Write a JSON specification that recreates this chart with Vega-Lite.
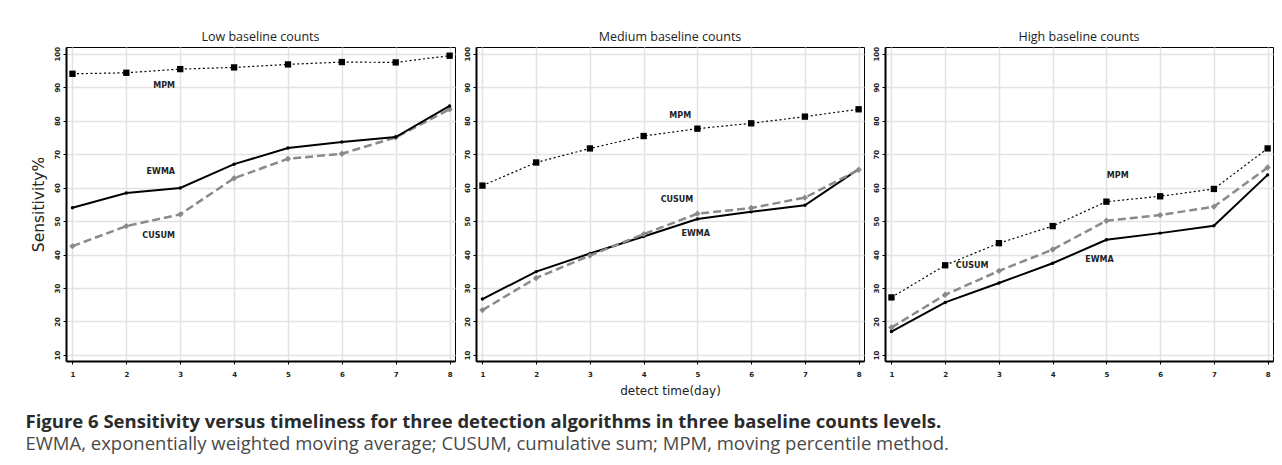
{
  "$schema": "https://vega.github.io/schema/vega-lite/v6.json",
  "padding": {"left": 25, "top": 30, "right": 5, "bottom": 5},
  "background": "white",
  "datasets": {
    "series": [
      {"panel": "Low", "algo": "MPM", "day": 1, "sens": 94.0},
      {"panel": "Low", "algo": "MPM", "day": 2, "sens": 94.3},
      {"panel": "Low", "algo": "MPM", "day": 3, "sens": 95.4},
      {"panel": "Low", "algo": "MPM", "day": 4, "sens": 95.9},
      {"panel": "Low", "algo": "MPM", "day": 5, "sens": 96.8},
      {"panel": "Low", "algo": "MPM", "day": 6, "sens": 97.5},
      {"panel": "Low", "algo": "MPM", "day": 7, "sens": 97.4},
      {"panel": "Low", "algo": "MPM", "day": 8, "sens": 99.4},
      {"panel": "Low", "algo": "EWMA", "day": 1, "sens": 54.0},
      {"panel": "Low", "algo": "EWMA", "day": 2, "sens": 58.4},
      {"panel": "Low", "algo": "EWMA", "day": 3, "sens": 59.9},
      {"panel": "Low", "algo": "EWMA", "day": 4, "sens": 67.0},
      {"panel": "Low", "algo": "EWMA", "day": 5, "sens": 71.8},
      {"panel": "Low", "algo": "EWMA", "day": 6, "sens": 73.6},
      {"panel": "Low", "algo": "EWMA", "day": 7, "sens": 75.1},
      {"panel": "Low", "algo": "EWMA", "day": 8, "sens": 84.4},
      {"panel": "Low", "algo": "CUSUM", "day": 1, "sens": 42.5},
      {"panel": "Low", "algo": "CUSUM", "day": 2, "sens": 48.5},
      {"panel": "Low", "algo": "CUSUM", "day": 3, "sens": 52.0},
      {"panel": "Low", "algo": "CUSUM", "day": 4, "sens": 62.8},
      {"panel": "Low", "algo": "CUSUM", "day": 5, "sens": 68.6},
      {"panel": "Low", "algo": "CUSUM", "day": 6, "sens": 70.1},
      {"panel": "Low", "algo": "CUSUM", "day": 7, "sens": 75.0},
      {"panel": "Low", "algo": "CUSUM", "day": 8, "sens": 83.4},
      {"panel": "Medium", "algo": "MPM", "day": 1, "sens": 60.6},
      {"panel": "Medium", "algo": "MPM", "day": 2, "sens": 67.5},
      {"panel": "Medium", "algo": "MPM", "day": 3, "sens": 71.7},
      {"panel": "Medium", "algo": "MPM", "day": 4, "sens": 75.4},
      {"panel": "Medium", "algo": "MPM", "day": 5, "sens": 77.6},
      {"panel": "Medium", "algo": "MPM", "day": 6, "sens": 79.2},
      {"panel": "Medium", "algo": "MPM", "day": 7, "sens": 81.2},
      {"panel": "Medium", "algo": "MPM", "day": 8, "sens": 83.4},
      {"panel": "Medium", "algo": "EWMA", "day": 1, "sens": 26.7},
      {"panel": "Medium", "algo": "EWMA", "day": 2, "sens": 34.9},
      {"panel": "Medium", "algo": "EWMA", "day": 3, "sens": 40.3},
      {"panel": "Medium", "algo": "EWMA", "day": 4, "sens": 45.4},
      {"panel": "Medium", "algo": "EWMA", "day": 5, "sens": 50.6},
      {"panel": "Medium", "algo": "EWMA", "day": 6, "sens": 52.8},
      {"panel": "Medium", "algo": "EWMA", "day": 7, "sens": 54.7},
      {"panel": "Medium", "algo": "EWMA", "day": 8, "sens": 65.5},
      {"panel": "Medium", "algo": "CUSUM", "day": 1, "sens": 23.4},
      {"panel": "Medium", "algo": "CUSUM", "day": 2, "sens": 33.0},
      {"panel": "Medium", "algo": "CUSUM", "day": 3, "sens": 39.7},
      {"panel": "Medium", "algo": "CUSUM", "day": 4, "sens": 46.1},
      {"panel": "Medium", "algo": "CUSUM", "day": 5, "sens": 52.2},
      {"panel": "Medium", "algo": "CUSUM", "day": 6, "sens": 53.9},
      {"panel": "Medium", "algo": "CUSUM", "day": 7, "sens": 57.0},
      {"panel": "Medium", "algo": "CUSUM", "day": 8, "sens": 65.3},
      {"panel": "High", "algo": "MPM", "day": 1, "sens": 27.2},
      {"panel": "High", "algo": "MPM", "day": 2, "sens": 36.8},
      {"panel": "High", "algo": "MPM", "day": 3, "sens": 43.4},
      {"panel": "High", "algo": "MPM", "day": 4, "sens": 48.5},
      {"panel": "High", "algo": "MPM", "day": 5, "sens": 55.8},
      {"panel": "High", "algo": "MPM", "day": 6, "sens": 57.4},
      {"panel": "High", "algo": "MPM", "day": 7, "sens": 59.6},
      {"panel": "High", "algo": "MPM", "day": 8, "sens": 71.7},
      {"panel": "High", "algo": "EWMA", "day": 1, "sens": 17.0},
      {"panel": "High", "algo": "EWMA", "day": 2, "sens": 25.7},
      {"panel": "High", "algo": "EWMA", "day": 3, "sens": 31.5},
      {"panel": "High", "algo": "EWMA", "day": 4, "sens": 37.4},
      {"panel": "High", "algo": "EWMA", "day": 5, "sens": 44.4},
      {"panel": "High", "algo": "EWMA", "day": 6, "sens": 46.4},
      {"panel": "High", "algo": "EWMA", "day": 7, "sens": 48.6},
      {"panel": "High", "algo": "EWMA", "day": 8, "sens": 63.8},
      {"panel": "High", "algo": "CUSUM", "day": 1, "sens": 18.2},
      {"panel": "High", "algo": "CUSUM", "day": 2, "sens": 28.0},
      {"panel": "High", "algo": "CUSUM", "day": 3, "sens": 35.1},
      {"panel": "High", "algo": "CUSUM", "day": 4, "sens": 41.5},
      {"panel": "High", "algo": "CUSUM", "day": 5, "sens": 50.1},
      {"panel": "High", "algo": "CUSUM", "day": 6, "sens": 51.8},
      {"panel": "High", "algo": "CUSUM", "day": 7, "sens": 54.3},
      {"panel": "High", "algo": "CUSUM", "day": 8, "sens": 66.0}
    ],
    "labels": [
      {"panel": "Low", "label": "MPM", "day": 2.7, "sens": 90.3},
      {"panel": "Low", "label": "EWMA", "day": 2.64, "sens": 64.7},
      {"panel": "Low", "label": "CUSUM", "day": 2.6, "sens": 45.5},
      {"panel": "Medium", "label": "MPM", "day": 4.68, "sens": 81.4},
      {"panel": "Medium", "label": "CUSUM", "day": 4.62, "sens": 56.2},
      {"panel": "Medium", "label": "EWMA", "day": 4.97, "sens": 46.1},
      {"panel": "High", "label": "MPM", "day": 5.21, "sens": 63.5},
      {"panel": "High", "label": "CUSUM", "day": 2.5, "sens": 36.6},
      {"panel": "High", "label": "EWMA", "day": 4.87, "sens": 38.4}
    ]
  },
  "title": {
    "text": "Figure 6 Sensitivity versus timeliness for three detection algorithms in three baseline counts levels.",
    "subtitle": "EWMA, exponentially weighted moving average; CUSUM, cumulative sum; MPM, moving percentile method.",
    "orient": "bottom",
    "anchor": "start",
    "frame": "bounds",
    "offset": 16,
    "dx": -5,
    "font": "Open Sans",
    "fontSize": 18.5,
    "fontWeight": "bold",
    "color": "#2b2b2b",
    "subtitleFont": "Open Sans",
    "subtitleFontSize": 18.5,
    "subtitleFontWeight": "normal",
    "subtitleColor": "#4a4a4a",
    "subtitlePadding": 4
  },
  "spacing": 6,
  "config": {
    "view": {"stroke": "black", "strokeWidth": 1},
    "axis": {
      "grid": true,
      "gridColor": "#e3e3e3",
      "gridWidth": 1.5,
      "domainColor": "black",
      "domainWidth": 2,
      "tickColor": "black",
      "tickSize": 3,
      "labelFont": "DejaVu Sans",
      "labelFontWeight": "bold",
      "labelFontSize": 7,
      "labelColor": "#222",
      "labelOverlap": false,
      "titleFont": "DejaVu Sans",
      "titleFontWeight": "normal",
      "titleColor": "#222"
    },
    "title": {"font": "Open Sans", "fontSize": 12.5, "fontWeight": "normal", "color": "#222", "offset": 3}
  },
  "hconcat": [
    {
      "width": 389, "height": 314,
      "title": "Low baseline counts",
      "layer": [
        {"data": {"name": "series"}, "transform": [{"filter": "datum.panel === 'Low' && datum.algo === 'MPM'"}],
         "mark": {"type": "line", "color": "black", "strokeWidth": 1.2, "strokeDash": [2, 2.5]},
         "encoding": {
           "x": {"field": "day", "type": "quantitative", "scale": {"domain": [0.88, 8.1], "nice": false, "zero": false}, "axis": {"values": [1,2,3,4,5,6,7,8], "format": "d", "title": null, "labelPadding": 6}},
           "y": {"field": "sens", "type": "quantitative", "scale": {"domain": [8.2, 102], "nice": false, "zero": false}, "axis": {"values": [10,20,30,40,50,60,70,80,90,100], "format": "d", "tickCount": 12, "title": "Sensitivity%", "titleFontSize": 15.5, "titlePadding": 7, "labelAngle": -90, "labelAlign": "center", "labelBaseline": "bottom", "labelPadding": 3}}
         }},
        {"data": {"name": "series"}, "transform": [{"filter": "datum.panel === 'Low' && datum.algo === 'MPM'"}],
         "mark": {"type": "point", "shape": "square", "filled": true, "color": "black", "size": 40, "opacity": 1},
         "encoding": {"x": {"field": "day", "type": "quantitative"}, "y": {"field": "sens", "type": "quantitative"}}},
        {"data": {"name": "series"}, "transform": [{"filter": "datum.panel === 'Low' && datum.algo === 'CUSUM'"}],
         "mark": {"type": "line", "color": "#8a8a8a", "strokeWidth": 2.5, "strokeDash": [8, 4]},
         "encoding": {"x": {"field": "day", "type": "quantitative"}, "y": {"field": "sens", "type": "quantitative"}}},
        {"data": {"name": "series"}, "transform": [{"filter": "datum.panel === 'Low' && datum.algo === 'CUSUM'"}],
         "mark": {"type": "point", "shape": "diamond", "filled": true, "color": "#8a8a8a", "size": 40, "opacity": 1},
         "encoding": {"x": {"field": "day", "type": "quantitative"}, "y": {"field": "sens", "type": "quantitative"}}},
        {"data": {"name": "series"}, "transform": [{"filter": "datum.panel === 'Low' && datum.algo === 'EWMA'"}],
         "mark": {"type": "line", "color": "black", "strokeWidth": 2},
         "encoding": {"x": {"field": "day", "type": "quantitative"}, "y": {"field": "sens", "type": "quantitative"}}},
        {"data": {"name": "series"}, "transform": [{"filter": "datum.panel === 'Low' && datum.algo === 'EWMA'"}],
         "mark": {"type": "point", "shape": "circle", "filled": true, "color": "black", "size": 12, "opacity": 1},
         "encoding": {"x": {"field": "day", "type": "quantitative"}, "y": {"field": "sens", "type": "quantitative"}}},
        {"data": {"name": "labels"}, "transform": [{"filter": "datum.panel === 'Low'"}],
         "mark": {"type": "text", "font": "DejaVu Sans", "fontWeight": "bold", "fontSize": 8, "color": "#222", "align": "center", "baseline": "middle"},
         "encoding": {"x": {"field": "day", "type": "quantitative"}, "y": {"field": "sens", "type": "quantitative"}, "text": {"field": "label"}}}
      ]
    },
    {
      "width": 388, "height": 314,
      "title": "Medium baseline counts",
      "layer": [
        {"data": {"name": "series"}, "transform": [{"filter": "datum.panel === 'Medium' && datum.algo === 'MPM'"}],
         "mark": {"type": "line", "color": "black", "strokeWidth": 1.2, "strokeDash": [2, 2.5]},
         "encoding": {
           "x": {"field": "day", "type": "quantitative", "scale": {"domain": [0.88, 8.1], "nice": false, "zero": false}, "axis": {"values": [1,2,3,4,5,6,7,8], "format": "d", "title": "detect time(day)", "titleFontSize": 12, "titlePadding": 8, "labelPadding": 6}},
           "y": {"field": "sens", "type": "quantitative", "scale": {"domain": [8.2, 102], "nice": false, "zero": false}, "axis": {"values": [10,20,30,40,50,60,70,80,90,100], "format": "d", "tickCount": 12, "title": null, "labelAngle": -90, "labelAlign": "center", "labelBaseline": "bottom", "labelPadding": 3}}
         }},
        {"data": {"name": "series"}, "transform": [{"filter": "datum.panel === 'Medium' && datum.algo === 'MPM'"}],
         "mark": {"type": "point", "shape": "square", "filled": true, "color": "black", "size": 40, "opacity": 1},
         "encoding": {"x": {"field": "day", "type": "quantitative"}, "y": {"field": "sens", "type": "quantitative"}}},
        {"data": {"name": "series"}, "transform": [{"filter": "datum.panel === 'Medium' && datum.algo === 'EWMA'"}],
         "mark": {"type": "line", "color": "black", "strokeWidth": 2},
         "encoding": {"x": {"field": "day", "type": "quantitative"}, "y": {"field": "sens", "type": "quantitative"}}},
        {"data": {"name": "series"}, "transform": [{"filter": "datum.panel === 'Medium' && datum.algo === 'EWMA'"}],
         "mark": {"type": "point", "shape": "circle", "filled": true, "color": "black", "size": 12, "opacity": 1},
         "encoding": {"x": {"field": "day", "type": "quantitative"}, "y": {"field": "sens", "type": "quantitative"}}},
        {"data": {"name": "series"}, "transform": [{"filter": "datum.panel === 'Medium' && datum.algo === 'CUSUM'"}],
         "mark": {"type": "line", "color": "#8a8a8a", "strokeWidth": 2.5, "strokeDash": [8, 4]},
         "encoding": {"x": {"field": "day", "type": "quantitative"}, "y": {"field": "sens", "type": "quantitative"}}},
        {"data": {"name": "series"}, "transform": [{"filter": "datum.panel === 'Medium' && datum.algo === 'CUSUM'"}],
         "mark": {"type": "point", "shape": "diamond", "filled": true, "color": "#8a8a8a", "size": 40, "opacity": 1},
         "encoding": {"x": {"field": "day", "type": "quantitative"}, "y": {"field": "sens", "type": "quantitative"}}},
        {"data": {"name": "labels"}, "transform": [{"filter": "datum.panel === 'Medium'"}],
         "mark": {"type": "text", "font": "DejaVu Sans", "fontWeight": "bold", "fontSize": 8, "color": "#222", "align": "center", "baseline": "middle"},
         "encoding": {"x": {"field": "day", "type": "quantitative"}, "y": {"field": "sens", "type": "quantitative"}, "text": {"field": "label"}}}
      ]
    },
    {
      "width": 388, "height": 314,
      "title": "High baseline counts",
      "layer": [
        {"data": {"name": "series"}, "transform": [{"filter": "datum.panel === 'High' && datum.algo === 'MPM'"}],
         "mark": {"type": "line", "color": "black", "strokeWidth": 1.2, "strokeDash": [2, 2.5]},
         "encoding": {
           "x": {"field": "day", "type": "quantitative", "scale": {"domain": [0.88, 8.1], "nice": false, "zero": false}, "axis": {"values": [1,2,3,4,5,6,7,8], "format": "d", "title": null, "labelPadding": 6}},
           "y": {"field": "sens", "type": "quantitative", "scale": {"domain": [8.2, 102], "nice": false, "zero": false}, "axis": {"values": [10,20,30,40,50,60,70,80,90,100], "format": "d", "tickCount": 12, "title": null, "labelAngle": -90, "labelAlign": "center", "labelBaseline": "bottom", "labelPadding": 3}}
         }},
        {"data": {"name": "series"}, "transform": [{"filter": "datum.panel === 'High' && datum.algo === 'MPM'"}],
         "mark": {"type": "point", "shape": "square", "filled": true, "color": "black", "size": 40, "opacity": 1},
         "encoding": {"x": {"field": "day", "type": "quantitative"}, "y": {"field": "sens", "type": "quantitative"}}},
        {"data": {"name": "series"}, "transform": [{"filter": "datum.panel === 'High' && datum.algo === 'CUSUM'"}],
         "mark": {"type": "line", "color": "#8a8a8a", "strokeWidth": 2.5, "strokeDash": [8, 4]},
         "encoding": {"x": {"field": "day", "type": "quantitative"}, "y": {"field": "sens", "type": "quantitative"}}},
        {"data": {"name": "series"}, "transform": [{"filter": "datum.panel === 'High' && datum.algo === 'CUSUM'"}],
         "mark": {"type": "point", "shape": "diamond", "filled": true, "color": "#8a8a8a", "size": 40, "opacity": 1},
         "encoding": {"x": {"field": "day", "type": "quantitative"}, "y": {"field": "sens", "type": "quantitative"}}},
        {"data": {"name": "series"}, "transform": [{"filter": "datum.panel === 'High' && datum.algo === 'EWMA'"}],
         "mark": {"type": "line", "color": "black", "strokeWidth": 2},
         "encoding": {"x": {"field": "day", "type": "quantitative"}, "y": {"field": "sens", "type": "quantitative"}}},
        {"data": {"name": "series"}, "transform": [{"filter": "datum.panel === 'High' && datum.algo === 'EWMA'"}],
         "mark": {"type": "point", "shape": "circle", "filled": true, "color": "black", "size": 12, "opacity": 1},
         "encoding": {"x": {"field": "day", "type": "quantitative"}, "y": {"field": "sens", "type": "quantitative"}}},
        {"data": {"name": "labels"}, "transform": [{"filter": "datum.panel === 'High'"}],
         "mark": {"type": "text", "font": "DejaVu Sans", "fontWeight": "bold", "fontSize": 8, "color": "#222", "align": "center", "baseline": "middle"},
         "encoding": {"x": {"field": "day", "type": "quantitative"}, "y": {"field": "sens", "type": "quantitative"}, "text": {"field": "label"}}}
      ]
    }
  ]
}
